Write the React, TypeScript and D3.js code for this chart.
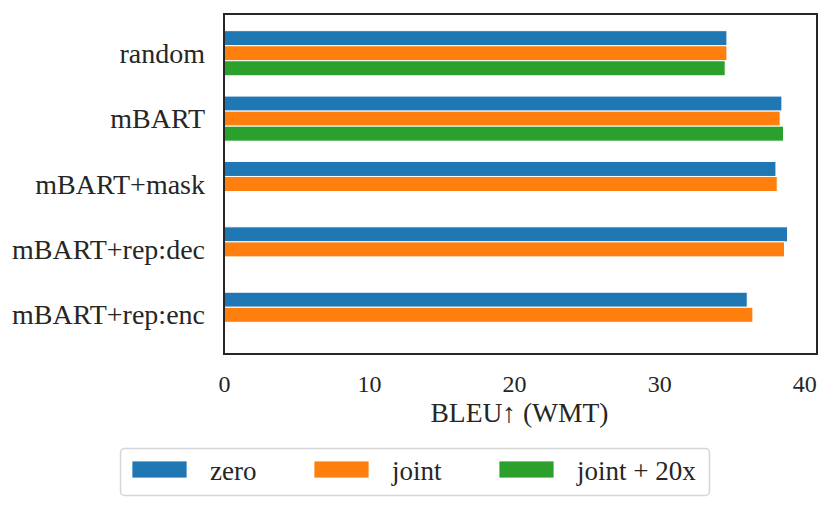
import React, { useRef, useEffect } from 'react';
import * as d3 from 'd3';

const categories = ['random', 'mBART', 'mBART+mask', 'mBART+rep:dec', 'mBART+rep:enc'];
const seriesNames = ['zero', 'joint', 'joint + 20x'];
const seriesColors = ['#1f77b4', '#ff7f0e', '#2ca02c'];
// null = no bar for that setting
const zeroValues = [34.67, 38.46, 38.05, 38.85, 36.07];
const jointValues = [34.67, 38.34, 38.14, 38.64, 36.46];
const joint20xValues: (number | null)[] = [34.55, 38.57, null, null, null];
const xTicks = [0, 10, 20, 30, 40];

const W = 831;
const H = 511;
const FONT = '"Liberation Serif", "DejaVu Serif", serif';

const App: React.FC = () => {
  const svgRef = useRef<SVGSVGElement | null>(null);

  useEffect(() => {
    if (!svgRef.current) return;
    const svg = d3.select(svgRef.current);
    svg.selectAll('*').remove();

    const left = 224, right = 817, top = 14, bottom = 354;

    const x = d3.scaleLinear().domain([0, 40.88]).range([left, right]);
    const y = d3.scaleLinear().domain([-0.6, 4.6]).range([top, bottom]);
    const barH = 0.23;
    const series = [zeroValues, jointValues, joint20xValues];
    const offsets = [-barH, 0, barH];

    svg.append('rect').attr('width', W).attr('height', H).attr('fill', '#fff');

    series.forEach((vals, si) => {
      svg.append('g')
        .selectAll('rect')
        .data(vals.map((v, i) => ({ v, i })).filter(d => d.v != null))
        .enter()
        .append('rect')
        .attr('x', x(0))
        .attr('y', d => y(d.i + offsets[si] - barH / 2))
        .attr('width', d => x(d.v as number) - x(0))
        .attr('height', y(barH) - y(0))
        .attr('fill', seriesColors[si])
        .attr('stroke', '#fff')
        .attr('stroke-width', 1);
    });

    // frame
    svg.append('rect')
      .attr('x', left).attr('y', top)
      .attr('width', right - left).attr('height', bottom - top)
      .attr('fill', 'none')
      .attr('stroke', '#262626')
      .attr('stroke-width', 2);

    // y tick labels
    svg.append('g')
      .selectAll('text')
      .data(categories)
      .enter()
      .append('text')
      .attr('x', 205)
      .attr('y', (_, i) => y(i))
      .attr('dy', '0.34em')
      .attr('text-anchor', 'end')
      .attr('font-family', FONT)
      .attr('font-size', 28)
      .attr('fill', '#262626')
      .text(d => d);

    // x axis
    const xAxis = svg.append('g')
      .attr('transform', `translate(0,${bottom})`)
      .call(d3.axisBottom(x).tickValues(xTicks).tickSize(0).tickPadding(21).tickFormat(d3.format('d')));
    xAxis.select('.domain').remove();
    xAxis.selectAll('text')
      .attr('font-family', FONT)
      .attr('font-size', 24)
      .attr('fill', '#262626');

    svg.append('text')
      .attr('x', (left + right) / 2 - 1)
      .attr('y', 422)
      .attr('text-anchor', 'middle')
      .attr('font-family', FONT)
      .attr('font-size', 27.5)
      .attr('fill', '#262626')
      .text('BLEU\u2191 (WMT)');

    // legend
    const lg = svg.append('g');
    lg.append('rect')
      .attr('x', 120.5).attr('y', 448.5)
      .attr('width', 589).attr('height', 47)
      .attr('rx', 4)
      .attr('fill', '#fff')
      .attr('stroke', '#d6d6d6')
      .attr('stroke-width', 1.5);
    const patchX = [132, 314, 499];
    seriesNames.forEach((name, i) => {
      lg.append('rect')
        .attr('x', patchX[i]).attr('y', 461)
        .attr('width', 55).attr('height', 17)
        .attr('fill', seriesColors[i])
        .attr('stroke', '#fff')
        .attr('stroke-width', 0.8);
      lg.append('text')
        .attr('x', patchX[i] + 78)
        .attr('y', 480)
        .attr('font-family', FONT)
        .attr('font-size', 27)
        .attr('fill', '#262626')
        .text(name);
    });
  }, []);

  return (
    <svg
      ref={svgRef}
      width={W}
      height={H}
      style={{ position: 'absolute', left: 0, top: 0, display: 'block' }}
    />
  );
};

export default App;
